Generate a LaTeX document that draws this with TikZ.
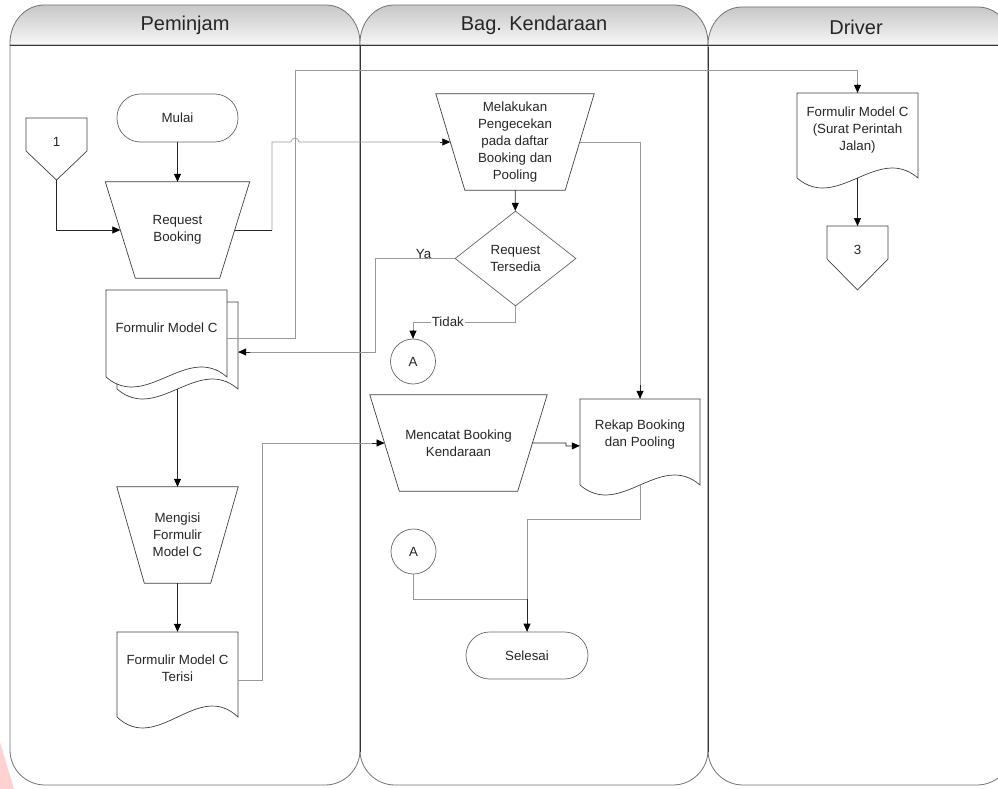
\documentclass[tikz,border=0pt]{standalone}
\usepackage{fontspec}
\setmainfont{Liberation Sans}
\usetikzlibrary{shapes.geometric,arrows.meta,calc}
\pgfdeclarelayer{lanes}
\pgfdeclarelayer{outlines}
\pgfsetlayers{lanes,outlines,main}

\tikzset{
  every node/.style={font=\fontsize{13.3}{17}\selectfont, align=center, text=black!85},
  lanetitle/.style={font=\fontsize{20}{24}\selectfont, inner sep=0pt},
  laneline/.style={draw=black!55, line width=0.8pt},
  divider/.style={draw=black!80, line width=0.9pt},
  shapeline/.style={draw=black!75, line width=0.7pt},
  manop/.style={rectangle, inner sep=0pt, minimum height=96pt},
  term/.style={draw=black!60, line width=0.7pt, rectangle, rounded corners=23.5pt,
    minimum width=121pt, minimum height=48pt, inner sep=0pt},
  decision/.style={draw=black!60, line width=0.7pt, diamond, aspect=1.27,
    minimum width=121pt, minimum height=95pt, inner sep=0pt},
  conn/.style={draw=black!60, line width=0.7pt, circle, minimum size=45pt, inner sep=0pt},
  doctext/.style={rectangle, inner sep=0pt},
  lbl/.style={inner sep=1pt},
  darkline/.style={draw=black!85, line width=0.7pt},
  greyline/.style={draw=black!40, line width=0.7pt},
  tip/.style={-{Triangle[length=8pt,width=7pt,color=black]}},
  flow/.style={darkline, tip},
  grayflow/.style={greyline, tip}
}

% document symbol: left x, right x, top y, y where the sides end, wave control offset
\newcommand\wavedoc[5]{%
  \draw[shapeline, fill=white] (#1,#3) -- (#2,#3) -- (#2,#4)
    .. controls ({#2-(#2-#1)/3},{#4-#5}) and ({#1+(#2-#1)/3},{#4+#5}) .. (#1,#4) -- cycle;}

% off-page connector: centre x, top y, y where the sides end, tip y, half width
\newcommand\offpagepath[5]{%
  \draw[shapeline, fill=white] ({#1-#5},#2) -- ({#1+#5},#2) -- ({#1+#5},#3)
    -- (#1,#4) -- ({#1-#5},#3) -- cycle;}

% manual operation (wide top): node name, inset of the bottom corners
\newcommand\manualpath[2]{%
  \draw[shapeline, fill=white] (#1.north west) -- (#1.north east)
    -- ($(#1.south east)+(-#2,0)$) -- ($(#1.south west)+(#2,0)$) -- cycle;}

\begin{document}
\begin{tikzpicture}[x=1pt,y=-1pt]
\clip (0,0) rectangle (998,789);

% ---------- swimlanes ----------
\begin{pgfonlayer}{lanes}
  \fill[white] (0,0) rectangle (998,789);
  \fill[red!18] (0,742) -- (14,789) -- (0,789) -- cycle;
  \foreach \xa/\xb/\yt in {10/360/5, 360/708/5, 708/1012/7}{
    \shade[top color=black!22, bottom color=black!3]
      (\xa,45) -- (\xa,\yt+38) arc[start angle=180,end angle=270,x radius=34,y radius=38]
      -- (\xb-34,\yt) arc[start angle=270,end angle=360,x radius=34,y radius=38]
      -- (\xb,45) -- cycle;
    \draw[laneline]
      (\xa,45) -- (\xa,\yt+38) arc[start angle=180,end angle=270,x radius=34,y radius=38]
      -- (\xb-34,\yt) arc[start angle=270,end angle=360,x radius=34,y radius=38]
      -- (\xb,45) -- cycle;
    \draw[laneline]
      (\xa,45) -- (\xa,750) arc[start angle=180,end angle=90,radius=35]
      -- (\xb-35,785) arc[start angle=90,end angle=0,radius=35] -- (\xb,45);
  }
  \draw[divider] (360,45) -- (360,752) (708,47) -- (708,752);
  \draw[divider] (10,45) -- (1012,45);
\end{pgfonlayer}

\node[lanetitle] (tPeminjam) at (185,25) {Peminjam};
\node[lanetitle] (tBagian) at (534,25) {Bag. Kendaraan};
\node[lanetitle] (tDriver) at (856,27) {Driver};

% ---------- Peminjam ----------
\node (off1) at (56.5,142) {1};
\node[term] (mulai) at (177.5,118) {Mulai};
\node[manop, minimum width=144pt] (rb) at (177.5,230) {Request\\Booking};
\node[doctext, minimum width=121pt, minimum height=76pt] (fm) at (166.5,328) {Formulir Model C};
\node[manop, minimum width=121pt] (mengisi) at (177.5,535) {Mengisi\\Formulir\\Model C};
\node[doctext, minimum width=121pt, minimum height=72pt] (terisi) at (177.5,668) {Formulir Model C\\Terisi};

% ---------- Bag. Kendaraan ----------
\node[manop, minimum width=158pt] (melak) at (515,142)
  {Melakukan\\Pengecekan\\pada daftar\\Booking dan\\Pooling};
\node[decision] (tersedia) at (515.5,258.5) {Request\\Tersedia};
\node[conn] (a1) at (413,361.5) {A};
\node[manop, minimum width=177pt] (menc) at (458.5,443) {Mencatat Booking\\Kendaraan};
\node[doctext, minimum width=120pt, minimum height=72pt] (rekap) at (640,435) {Rekap Booking\\dan Pooling};
\node[conn] (a2) at (413.5,551.5) {A};
\node[term, minimum width=122pt, minimum height=47pt] (selesai) at (527,655.5) {Selesai};

% ---------- Driver ----------
\node[doctext, minimum width=121pt, minimum height=74pt] (surat) at (857.5,130)
  {Formulir Model C\\(Surat Perintah\\Jalan)};
\node (off3) at (857.5,250) {3};

% ---------- symbol outlines ----------
\begin{pgfonlayer}{outlines}
  \offpagepath{56.5}{118}{151}{180}{30.5}
  \offpagepath{857.5}{226}{259}{290}{30.5}
  \manualpath{rb}{30}
  \manualpath{mengisi}{27.5}
  \manualpath{melak}{29}
  \manualpath{menc}{29.5}
  \wavedoc{117}{238}{302}{389}{34.6}
  \wavedoc{106}{227}{290}{377}{34.6}
  \wavedoc{117}{238}{632}{717}{38}
  \wavedoc{580}{700}{399}{485}{34.6}
  \wavedoc{797}{918}{93}{178}{34.6}
\end{pgfonlayer}

% ---------- connector ends ----------
\coordinate (off1-tip) at (56.5,180);
\coordinate (off3-top) at (857.5,226);
\coordinate (rb-w) at ($(rb.west)+(15,0)$);
\coordinate (rb-e) at ($(rb.east)+(-15,0)$);
\coordinate (melak-w) at ($(melak.west)+(14.5,0)$);
\coordinate (melak-e) at ($(melak.east)+(-14.5,0)$);
\coordinate (menc-w) at ($(menc.west)+(14.75,0)$);
\coordinate (menc-e) at ($(menc.east)+(-14.75,0)$);
\coordinate (fm-out) at ($(fm.east)+(0,10)$);
\coordinate (fmb-in) at ($(fm.east)+(11,24)$);
\coordinate (fmb-bot) at ($(fm.south)+(11,23)$);
\coordinate (terisi-out) at ($(terisi.east)+(0,12)$);
\coordinate (rekap-in) at ($(rekap.north west)+(0,47)$);
\coordinate (rekap-bot) at ($(rekap.south)+(0,14)$);
\coordinate (surat-bot) at ($(surat.south)+(0,11)$);
\coordinate (merge) at (527,599);

% ---------- connectors ----------
\draw[flow] (mulai) -- (rb);
\draw[flow] (off1-tip) |- (rb-w);
\draw[greyline] (fm-out) -- (295,338) -- (295,70) -| (surat.north);
\draw[flow] (surat.north |- 0,84) -- (surat.north);
\draw[darkline] (rb-e) -- (272,230);
\draw[greyline] (272,230) -- (272,142) -- (291,142)
  arc[start angle=180,end angle=360,radius=4] -- (440,142);
\draw[flow] (440,142) -- (melak-w);
\draw[flow] (melak) -- (tersedia);
\draw[greyline] (tersedia.west) -- node[pos=0.39, anchor=base, inner sep=0pt] (ya) {Ya} (375,258.5) |- (fmb-in);
\draw[flow] (250,352) -- (fmb-in);
\draw[greyline] (tersedia.south) -- (515.5,322) -| node[pos=0.33, lbl, fill=white] (tidak) {Tidak} (a1.north);
\draw[flow] (413,330) -- (a1.north);
\draw[flow] (fmb-bot) -- (mengisi);
\draw[flow] (mengisi) -- (terisi);
\draw[greyline] (terisi-out) -- (262,680) |- (menc-w);
\draw[flow] (372,443) -- (menc-w);
\draw[greyline] (melak-e) -| (rekap.north);
\draw[flow] (640,385) -- (rekap.north);
\draw[flow] (menc-e) -- (566,443) -- (566,446) -- (rekap-in);
\draw[greyline] (rekap-bot) -- (640,519) -| (selesai.north);
\draw[greyline] (a2.south) |- (merge);
\draw[flow] (merge) -- (selesai.north);
\draw[flow] (surat-bot) -- (off3-top);
\end{tikzpicture}
\end{document}
